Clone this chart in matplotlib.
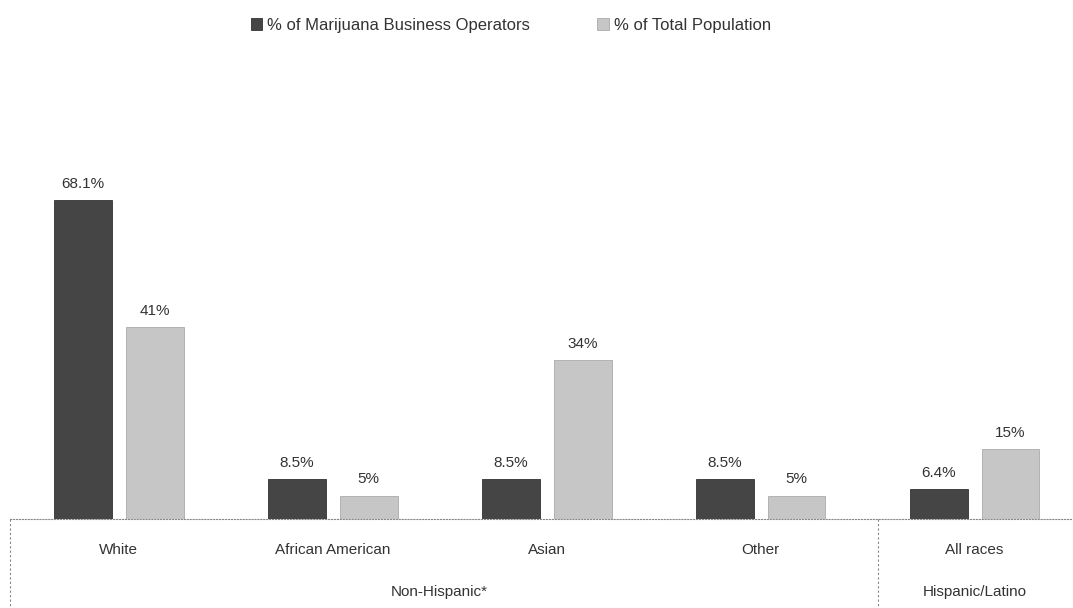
import numpy as np
import matplotlib.pyplot as plt

categories = ['White', 'African American', 'Asian', 'Other', 'All races']
operators = [68.1, 8.5, 8.5, 8.5, 6.4]
population = [41, 5, 34, 5, 15]
op_labels = ['68.1%', '8.5%', '8.5%', '8.5%', '6.4%']
pop_labels = ['41%', '5%', '34%', '5%', '15%']
groups = ['Non-Hispanic*', 'Hispanic/Latino']

dark = '#454545'
light = '#c6c6c6'

fig = plt.figure(figsize=(10.73, 6.08), dpi=100)
ax = fig.add_axes([0.009, 0.146, 0.989, 0.578])

x = np.arange(len(categories))
w = 0.27
off = 0.168
b1 = ax.bar(x - off, operators, w, color=dark, edgecolor='#333333', linewidth=0.6,
            label='% of Marijuana Business Operators')
b2 = ax.bar(x + off, population, w, color=light, edgecolor='#aaaaaa', linewidth=0.6,
            label='% of Total Population')

for bars, labs in ((b1, op_labels), (b2, pop_labels)):
    for r, t in zip(bars, labs):
        ax.text(r.get_x() + r.get_width() / 2, r.get_height() + 2.0, t,
                ha='center', va='bottom', fontsize=11, color='#333333',
                family='Liberation Sans')

ax.set_xlim(-0.51, 4.45)
ax.set_ylim(0, 75)
ax.set_yticks([])
ax.set_xticks([])
for s in ['top', 'right', 'left']:
    ax.spines[s].set_visible(False)
ax.spines['bottom'].set_linestyle(':')
ax.spines['bottom'].set_color('#888888')

for xi, c in zip(x, categories):
    ax.text(xi, -6.5, c, ha='center', va='center', fontsize=11, color='#333333',
            family='Liberation Sans')
ax.text(1.5, -15.5, groups[0], ha='center', va='center', fontsize=11, color='#333333',
        family='Liberation Sans')
ax.text(4.0, -15.5, groups[1], ha='center', va='center', fontsize=11, color='#333333',
        family='Liberation Sans')

for xs in (-0.51, 3.55):
    ax.plot([xs, xs], [0, -19], color='#888888', linestyle=(0, (2, 2)),
            linewidth=0.8, clip_on=False)

leg = fig.legend(loc='upper center', bbox_to_anchor=(0.476, 0.995), ncol=2,
                 frameon=False, handlelength=0.7, handleheight=0.7,
                 columnspacing=4.0, handletextpad=0.3,
                 prop={'family': 'Liberation Sans', 'size': 12})
for t in leg.get_texts():
    t.set_color('#333333')

fig.savefig('out.png', dpi=100)
